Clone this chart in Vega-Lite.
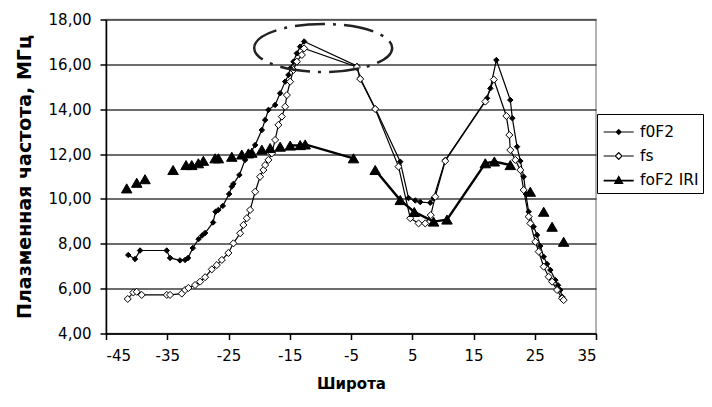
{
  "$schema": "https://vega.github.io/schema/vega-lite/v6.json",
  "width": 490,
  "height": 314,
  "autosize": {"type": "none"},
  "padding": {"left": 106, "top": 19.5, "right": 116, "bottom": 73.5},
  "background": "white",
  "config": {"view": {"stroke": "#9a9a9a", "strokeWidth": 1.5}, "font": "DejaVu Sans"},
  "datasets": {
    "series": [
      {"s":"f0F2","g":"a","x":-41.36,"y":7.50},{"s":"f0F2","g":"a","x":-40.26,"y":7.32},{"s":"f0F2","g":"a","x":-39.44,"y":7.70},{"s":"f0F2","g":"a","x":-35.08,"y":7.70},{"s":"f0F2","g":"a","x":-34.54,"y":7.37},{"s":"f0F2","g":"a","x":-32.91,"y":7.26},{"s":"f0F2","g":"a","x":-32.09,"y":7.28},{"s":"f0F2","g":"a","x":-31.60,"y":7.37},{"s":"f0F2","g":"a","x":-30.83,"y":7.81},{"s":"f0F2","g":"a","x":-29.89,"y":8.21},{"s":"f0F2","g":"a","x":-29.31,"y":8.37},{"s":"f0F2","g":"a","x":-28.82,"y":8.48},{"s":"f0F2","g":"a","x":-27.52,"y":8.95},{"s":"f0F2","g":"a","x":-27.11,"y":9.43},{"s":"f0F2","g":"a","x":-26.65,"y":9.51},{"s":"f0F2","g":"a","x":-25.93,"y":9.69},{"s":"f0F2","g":"a","x":-24.90,"y":10.22},{"s":"f0F2","g":"a","x":-24.46,"y":10.55},{"s":"f0F2","g":"a","x":-24.20,"y":10.67},{"s":"f0F2","g":"a","x":-23.22,"y":11.07},{"s":"f0F2","g":"a","x":-22.29,"y":11.74},{"s":"f0F2","g":"a","x":-21.47,"y":12.03},{"s":"f0F2","g":"a","x":-20.65,"y":12.40},{"s":"f0F2","g":"a","x":-19.56,"y":13.07},{"s":"f0F2","g":"a","x":-19.02,"y":13.52},{"s":"f0F2","g":"a","x":-18.48,"y":13.97},{"s":"f0F2","g":"a","x":-17.39,"y":14.19},{"s":"f0F2","g":"a","x":-16.57,"y":14.71},{"s":"f0F2","g":"a","x":-15.75,"y":15.23},{"s":"f0F2","g":"a","x":-15.21,"y":15.53},{"s":"f0F2","g":"a","x":-14.93,"y":15.82},{"s":"f0F2","g":"a","x":-14.40,"y":16.12},{"s":"f0F2","g":"a","x":-13.84,"y":16.49},{"s":"f0F2","g":"a","x":-13.30,"y":16.79},{"s":"f0F2","g":"a","x":-12.65,"y":17.02},{"s":"f0F2","g":"a","x":-4.04,"y":15.93},{"s":"f0F2","g":"a","x":-3.50,"y":15.39},{"s":"f0F2","g":"a","x":-1.05,"y":14.04},{"s":"f0F2","g":"a","x":3.04,"y":11.66},{"s":"f0F2","g":"a","x":4.39,"y":10.04},{"s":"f0F2","g":"a","x":5.49,"y":9.93},{"s":"f0F2","g":"a","x":6.31,"y":9.86},{"s":"f0F2","g":"a","x":7.94,"y":9.83},{"s":"f0F2","g":"a","x":8.48,"y":10.03},{"s":"f0F2","g":"a","x":10.39,"y":11.74},{"s":"f0F2","g":"a","x":17.21,"y":14.49},{"s":"f0F2","g":"a","x":17.75,"y":14.93},{"s":"f0F2","g":"a","x":18.73,"y":16.19},{"s":"f0F2","g":"a","x":21.01,"y":14.41},{"s":"f0F2","g":"a","x":21.34,"y":13.60},{"s":"f0F2","g":"a","x":22.11,"y":12.33},{"s":"f0F2","g":"a","x":22.65,"y":11.69},{"s":"f0F2","g":"a","x":23.19,"y":10.99},{"s":"f0F2","g":"a","x":23.55,"y":10.22},{"s":"f0F2","g":"a","x":24.00,"y":9.43},{"s":"f0F2","g":"a","x":24.82,"y":8.76},{"s":"f0F2","g":"a","x":25.38,"y":8.39},{"s":"f0F2","g":"a","x":25.90,"y":7.90},{"s":"f0F2","g":"a","x":26.46,"y":7.42},{"s":"f0F2","g":"a","x":27.00,"y":7.10},{"s":"f0F2","g":"a","x":27.55,"y":6.83},{"s":"f0F2","g":"a","x":28.37,"y":6.38},{"s":"f0F2","g":"a","x":28.80,"y":6.15},{"s":"f0F2","g":"a","x":29.18,"y":5.94},{"s":"f0F2","g":"a","x":29.46,"y":5.64},
      {"s":"fs","g":"b","x":-41.45,"y":5.54},{"s":"fs","g":"b","x":-40.54,"y":5.83},{"s":"fs","g":"b","x":-39.98,"y":5.86},{"s":"fs","g":"b","x":-39.17,"y":5.72},{"s":"fs","g":"b","x":-35.08,"y":5.72},{"s":"fs","g":"b","x":-34.54,"y":5.72},{"s":"fs","g":"b","x":-32.63,"y":5.78},{"s":"fs","g":"b","x":-32.09,"y":5.94},{"s":"fs","g":"b","x":-31.55,"y":6.03},{"s":"fs","g":"b","x":-30.46,"y":6.16},{"s":"fs","g":"b","x":-29.64,"y":6.31},{"s":"fs","g":"b","x":-28.82,"y":6.51},{"s":"fs","g":"b","x":-27.73,"y":6.86},{"s":"fs","g":"b","x":-26.91,"y":7.05},{"s":"fs","g":"b","x":-26.09,"y":7.28},{"s":"fs","g":"b","x":-25.02,"y":7.59},{"s":"fs","g":"b","x":-24.20,"y":8.02},{"s":"fs","g":"b","x":-23.10,"y":8.47},{"s":"fs","g":"b","x":-22.57,"y":8.84},{"s":"fs","g":"b","x":-22.01,"y":9.14},{"s":"fs","g":"b","x":-21.47,"y":9.51},{"s":"fs","g":"b","x":-20.65,"y":10.32},{"s":"fs","g":"b","x":-19.84,"y":10.99},{"s":"fs","g":"b","x":-19.30,"y":11.29},{"s":"fs","g":"b","x":-19.02,"y":11.51},{"s":"fs","g":"b","x":-18.48,"y":11.74},{"s":"fs","g":"b","x":-17.92,"y":12.03},{"s":"fs","g":"b","x":-17.39,"y":12.63},{"s":"fs","g":"b","x":-16.85,"y":13.30},{"s":"fs","g":"b","x":-16.29,"y":13.67},{"s":"fs","g":"b","x":-15.75,"y":14.11},{"s":"fs","g":"b","x":-15.47,"y":14.63},{"s":"fs","g":"b","x":-14.93,"y":15.23},{"s":"fs","g":"b","x":-14.40,"y":15.75},{"s":"fs","g":"b","x":-13.84,"y":16.12},{"s":"fs","g":"b","x":-13.02,"y":16.42},{"s":"fs","g":"b","x":-12.65,"y":16.71},{"s":"fs","g":"b","x":-4.04,"y":15.88},{"s":"fs","g":"b","x":-3.50,"y":15.35},{"s":"fs","g":"b","x":-1.05,"y":14.01},{"s":"fs","g":"b","x":2.76,"y":11.44},{"s":"fs","g":"b","x":4.67,"y":9.14},{"s":"fs","g":"b","x":6.03,"y":8.91},{"s":"fs","g":"b","x":7.12,"y":8.91},{"s":"fs","g":"b","x":8.02,"y":9.28},{"s":"fs","g":"b","x":8.76,"y":10.10},{"s":"fs","g":"b","x":10.39,"y":11.69},{"s":"fs","g":"b","x":16.93,"y":14.34},{"s":"fs","g":"b","x":18.32,"y":15.32},{"s":"fs","g":"b","x":20.36,"y":13.70},{"s":"fs","g":"b","x":20.85,"y":12.85},{"s":"fs","g":"b","x":21.01,"y":12.18},{"s":"fs","g":"b","x":21.83,"y":11.74},{"s":"fs","g":"b","x":22.65,"y":11.29},{"s":"fs","g":"b","x":23.19,"y":10.40},{"s":"fs","g":"b","x":24.00,"y":9.21},{"s":"fs","g":"b","x":24.28,"y":8.91},{"s":"fs","g":"b","x":25.10,"y":8.09},{"s":"fs","g":"b","x":25.64,"y":7.65},{"s":"fs","g":"b","x":26.46,"y":6.98},{"s":"fs","g":"b","x":27.27,"y":6.53},{"s":"fs","g":"b","x":27.83,"y":6.31},{"s":"fs","g":"b","x":28.64,"y":5.94},{"s":"fs","g":"b","x":29.46,"y":5.57},{"s":"fs","g":"b","x":29.72,"y":5.49},
      {"s":"foF2 IRI","g":"i1","x":-41.62,"y":10.47},{"s":"foF2 IRI","g":"i2","x":-39.98,"y":10.72},{"s":"foF2 IRI","g":"i3","x":-38.63,"y":10.88},{"s":"foF2 IRI","g":"i4","x":-34.05,"y":11.29},{"s":"foF2 IRI","g":"i5","x":-31.93,"y":11.51},{"s":"foF2 IRI","g":"i6","x":-31.00,"y":11.51},{"s":"foF2 IRI","g":"i7","x":-29.92,"y":11.59},{"s":"foF2 IRI","g":"i8","x":-29.10,"y":11.70},{"s":"foF2 IRI","g":"i9","x":-27.19,"y":11.81},{"s":"foF2 IRI","g":"i10","x":-26.65,"y":11.81},{"s":"foF2 IRI","g":"i11","x":-24.46,"y":11.88},{"s":"foF2 IRI","g":"i12","x":-22.83,"y":11.98},{"s":"foF2 IRI","g":"i13","x":-21.75,"y":12.03},{"s":"foF2 IRI","g":"i14","x":-21.19,"y":12.06},{"s":"foF2 IRI","g":"i15","x":-19.56,"y":12.20},{"s":"foF2 IRI","g":"i16","x":-18.20,"y":12.27},{"s":"foF2 IRI","g":"i17","x":-16.57,"y":12.33},
      {"s":"foF2 IRI","g":"A","x":-14.93,"y":12.38},{"s":"foF2 IRI","g":"A","x":-13.30,"y":12.40},{"s":"foF2 IRI","g":"A","x":-12.48,"y":12.43},{"s":"foF2 IRI","g":"A","x":-4.59,"y":11.81},
      {"s":"foF2 IRI","g":"B","x":-1.05,"y":11.29},{"s":"foF2 IRI","g":"B","x":3.04,"y":9.95},{"s":"foF2 IRI","g":"B","x":5.33,"y":9.42},{"s":"foF2 IRI","g":"B","x":8.48,"y":8.99},{"s":"foF2 IRI","g":"B","x":10.67,"y":9.08},{"s":"foF2 IRI","g":"B","x":16.93,"y":11.59},{"s":"foF2 IRI","g":"B","x":18.40,"y":11.67},{"s":"foF2 IRI","g":"B","x":21.01,"y":11.51},
      {"s":"foF2 IRI","g":"i18","x":24.27,"y":10.32},{"s":"foF2 IRI","g":"i19","x":26.46,"y":9.43},{"s":"foF2 IRI","g":"i20","x":27.83,"y":8.76},{"s":"foF2 IRI","g":"i21","x":29.72,"y":8.09}
    ],
    "note": [{"x": -9.54, "y": 16.73}]
  },
  "encoding": {
    "x": {"field": "x", "type": "quantitative",
      "scale": {"domain": [-45, 35], "nice": false, "zero": false},
      "axis": {"values": [-45, -35, -25, -15, -5, 5, 15, 25, 35], "title": "Широта", "labelExpr": "'' + datum.value",
        "grid": false, "domainColor": "black", "domainWidth": 1.5, "tickColor": "black", "tickSize": 6, "tickWidth": 1.5,
        "labelFont": "DejaVu Sans", "labelFontSize": 15, "labelColor": "black", "labelPadding": 9,
        "titleFont": "DejaVu Sans", "titleFontSize": 15, "titleFontWeight": "bold", "titleColor": "black", "titlePadding": 13}},
    "y": {"field": "y", "type": "quantitative",
      "scale": {"domain": [4, 18], "nice": false, "zero": false},
      "axis": {"values": [4, 6, 8, 10, 12, 14, 16, 18], "title": "Плазменная частота, МГц",
        "labelExpr": "replace(format(datum.value, '.2f'), '.', ',')",
        "grid": true, "gridColor": "#3c3c3c", "gridWidth": 1.5,
        "domainColor": "black", "domainWidth": 1.5, "tickColor": "black", "tickSize": 6, "tickWidth": 1.5,
        "labelFont": "DejaVu Sans", "labelFontSize": 15, "labelColor": "black", "labelPadding": 9,
        "titleFont": "DejaVu Sans", "titleFontSize": 19, "titleFontWeight": "bold", "titleColor": "black", "titlePadding": 14}}
  },
  "layer": [
    {"data": {"name": "series"},
     "transform": [{"filter": "datum.s !== 'foF2 IRI'"}],
     "mark": {"type": "line", "color": "black", "strokeWidth": 1.2},
     "encoding": {"detail": {"field": "g"}}},
    {"data": {"name": "series"},
     "transform": [{"filter": "datum.s === 'foF2 IRI'"}],
     "mark": {"type": "line", "color": "black", "strokeWidth": 2.4},
     "encoding": {"detail": {"field": "g"}}},
    {"data": {"name": "series"},
     "transform": [{"filter": "datum.s === 'f0F2'"}],
     "mark": {"type": "point", "shape": "diamond", "filled": true, "fill": "black", "stroke": "black", "strokeWidth": 1, "size": 30, "opacity": 1}},
    {"data": {"name": "series"},
     "transform": [{"filter": "datum.s === 'fs'"}],
     "mark": {"type": "point", "shape": "diamond", "filled": true, "fill": "white", "stroke": "black", "strokeWidth": 1, "size": 50, "opacity": 1}},
    {"data": {"name": "series"},
     "transform": [{"filter": "datum.s === 'foF2 IRI'"}],
     "mark": {"type": "point", "shape": "triangle-up", "filled": true, "fill": "black", "stroke": "black", "strokeWidth": 1, "size": 110, "opacity": 1}},
    {"data": {"name": "series"},
     "transform": [{"filter": "false"}],
     "mark": {"type": "point", "filled": true, "color": "black", "stroke": "black", "strokeWidth": 1.2, "opacity": 1},
     "encoding": {
       "shape": {"field": "s", "type": "nominal",
         "scale": {"domain": ["f0F2", "fs", "foF2 IRI"],
           "range": [
             "M-0.87,-0.045L1.44,-0.045L1.44,0.045L-0.87,0.045ZM0.285,-0.25L0.535,0L0.285,0.25L0.035,0Z",
             "M-0.87,-0.045L-0.035,-0.045L-0.035,0.045L-0.87,0.045ZM0.605,-0.045L1.44,-0.045L1.44,0.045L0.605,0.045ZM0.285,-0.32L0.605,0L0.285,0.32L-0.035,0ZM0.285,-0.2L0.085,0L0.285,0.2L0.485,0Z",
             "M-0.87,-0.02L1.44,-0.02L1.44,0.12L-0.87,0.12ZM0.285,-0.36L0.665,0.3L-0.095,0.3Z"
           ]},
         "legend": {"title": null, "orient": "none", "legendX": 491, "legendY": 94.5, "direction": "vertical",
           "symbolSize": 676, "labelFont": "DejaVu Sans", "labelFontSize": 15.5, "labelColor": "black", "labelOffset": 11,
           "rowPadding": 1, "padding": 4, "strokeColor": "black", "fillColor": "white",
           "symbolStrokeColor": "black", "symbolFillColor": "black", "symbolStrokeWidth": 1.2, "symbolOpacity": 1}}
     }},
    {"data": {"name": "note"},
     "mark": {"type": "point", "shape": "M-1,0C-1,-0.1922,-0.5523,-0.348,0,-0.348C0.5523,-0.348,1,-0.1922,1,0C1,0.1922,0.5523,0.348,0,0.348C-0.5523,0.348,-1,0.1922,-1,0Z",
       "size": 19044, "filled": false, "stroke": "#222222", "strokeWidth": 2.5, "strokeDash": [30, 8, 3, 8], "opacity": 1}}
  ]
}
